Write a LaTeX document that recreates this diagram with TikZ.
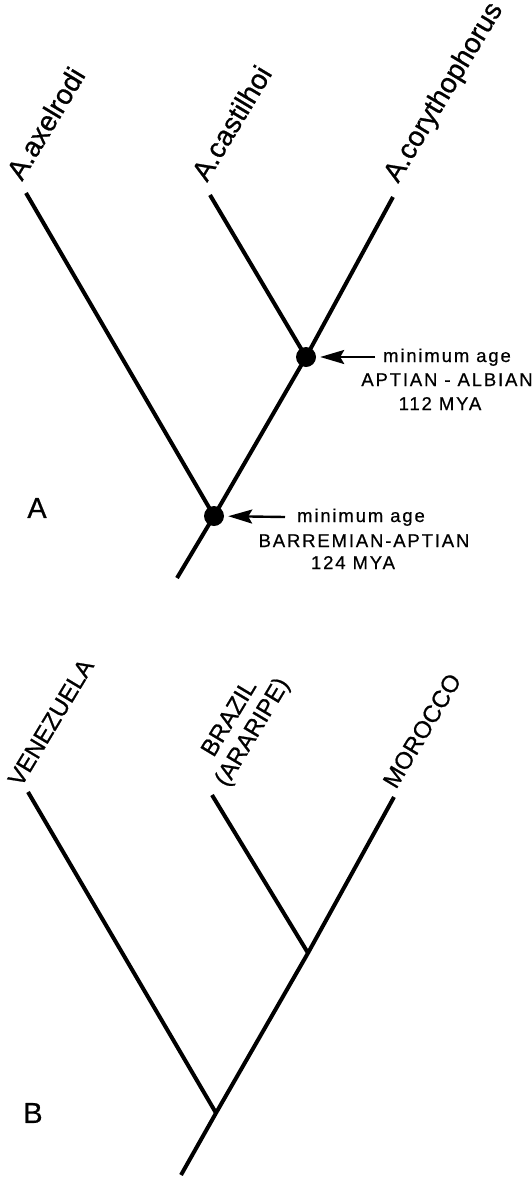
\documentclass[tikz,border=0pt]{standalone}
\usepackage{fontspec}
\setmainfont{Liberation Sans}
\usetikzlibrary{arrows.meta}
\begin{document}
\begin{tikzpicture}[x=1pt,y=-1pt,
  branch/.style={line width=4pt,line join=round},
  junction/.style={circle,fill=black,draw=none,minimum size=20pt,inner sep=0pt},
  pointer/.style={line width=2.4pt,-{Stealth[length=24pt,width=14pt,inset=4pt]},shorten >=4pt},
  taxon/.style={rotate=59,anchor=base west,inner sep=0pt,
    font=\fontsize{28}{32}\selectfont\addfontfeature{FakeBold=0.8}},
  area/.style={rotate=59,anchor=base west,inner sep=0pt,
    font=\fontsize{24}{28}\selectfont\addfontfeature{FakeBold=0.8}},
  note/.style={anchor=base,inner sep=0pt,
    font=\fontsize{18.5}{22}\selectfont\addfontfeature{LetterSpace=10,FakeBold=0.6}},
  panel/.style={anchor=center,inner sep=0pt,
    font=\fontsize{29}{34}\selectfont\addfontfeature{FakeBold=0.6}}]
\useasboundingbox (0,0) rectangle (532,1178);

% ---------- panel A: species ----------
\coordinate (a1) at (26,193);
\coordinate (a2) at (210,195);
\coordinate (a3) at (393,197);
\coordinate (aUp) at (306,357);
\coordinate (aLo) at (214,516);
\coordinate (aRoot) at (177,578);

\draw[branch] (a3) -- (aUp) -- (aLo) -- (aRoot);
\draw[branch] (a2) -- (aUp);
\draw[branch] (a1) -- (aLo);

\node[junction] (dotUp) at (aUp) {};
\node[junction] (dotLo) at (aLo) {};

\node[taxon] (tA1) at (22,182) {A.axelrodi};
\node[taxon] (tA2) at (207,183) {A.castilhoi};
\node[taxon] (tA3) at (398,184) {A.corythophorus};

% age annotations
\coordinate (pUp) at (375,357);
\coordinate (pLo) at (285,517);
\draw[pointer] (pUp) -- (dotUp);
\draw[pointer] (pLo) -- (dotLo);

\node[note] (mUp1) at (447,362) {minimum age};
\node[note] (mUp2) at (447,386) {APTIAN - ALBIAN};
\node[note] (mUp3) at (440,410) {112 MYA};

\node[note] (mLo1) at (361,522) {minimum age};
\node[note] (mLo2) at (364,547) {BARREMIAN-APTIAN};
\node[note] (mLo3) at (353,569) {124 MYA};

\node[panel] (labA) at (37,508) {A};

% ---------- panel B: areas ----------
\coordinate (b1) at (28,792);
\coordinate (b2) at (212,795);
\coordinate (b3) at (394,797);
\coordinate (bUp) at (308,953);
\coordinate (bLo) at (216,1113);
\coordinate (bRoot) at (181,1175);

\draw[branch] (b3) -- (bUp) -- (bLo) -- (bRoot);
\draw[branch] (b2) -- (bUp);
\draw[branch] (b1) -- (bLo);

\node[area] (tB1) at (21,788) {VENEZUELA};
\node[rotate=59,anchor=center,inner sep=0pt,align=center,
      font=\fontsize{24}{27}\selectfont\addfontfeature{FakeBold=0.8}] (tB2) at (242,726) {BRAZIL\\(ARARIPE)};
\node[area] (tB3) at (396,790) {MOROCCO};

\node[panel] (labB) at (33,1113) {B};
\end{tikzpicture}
\end{document}
